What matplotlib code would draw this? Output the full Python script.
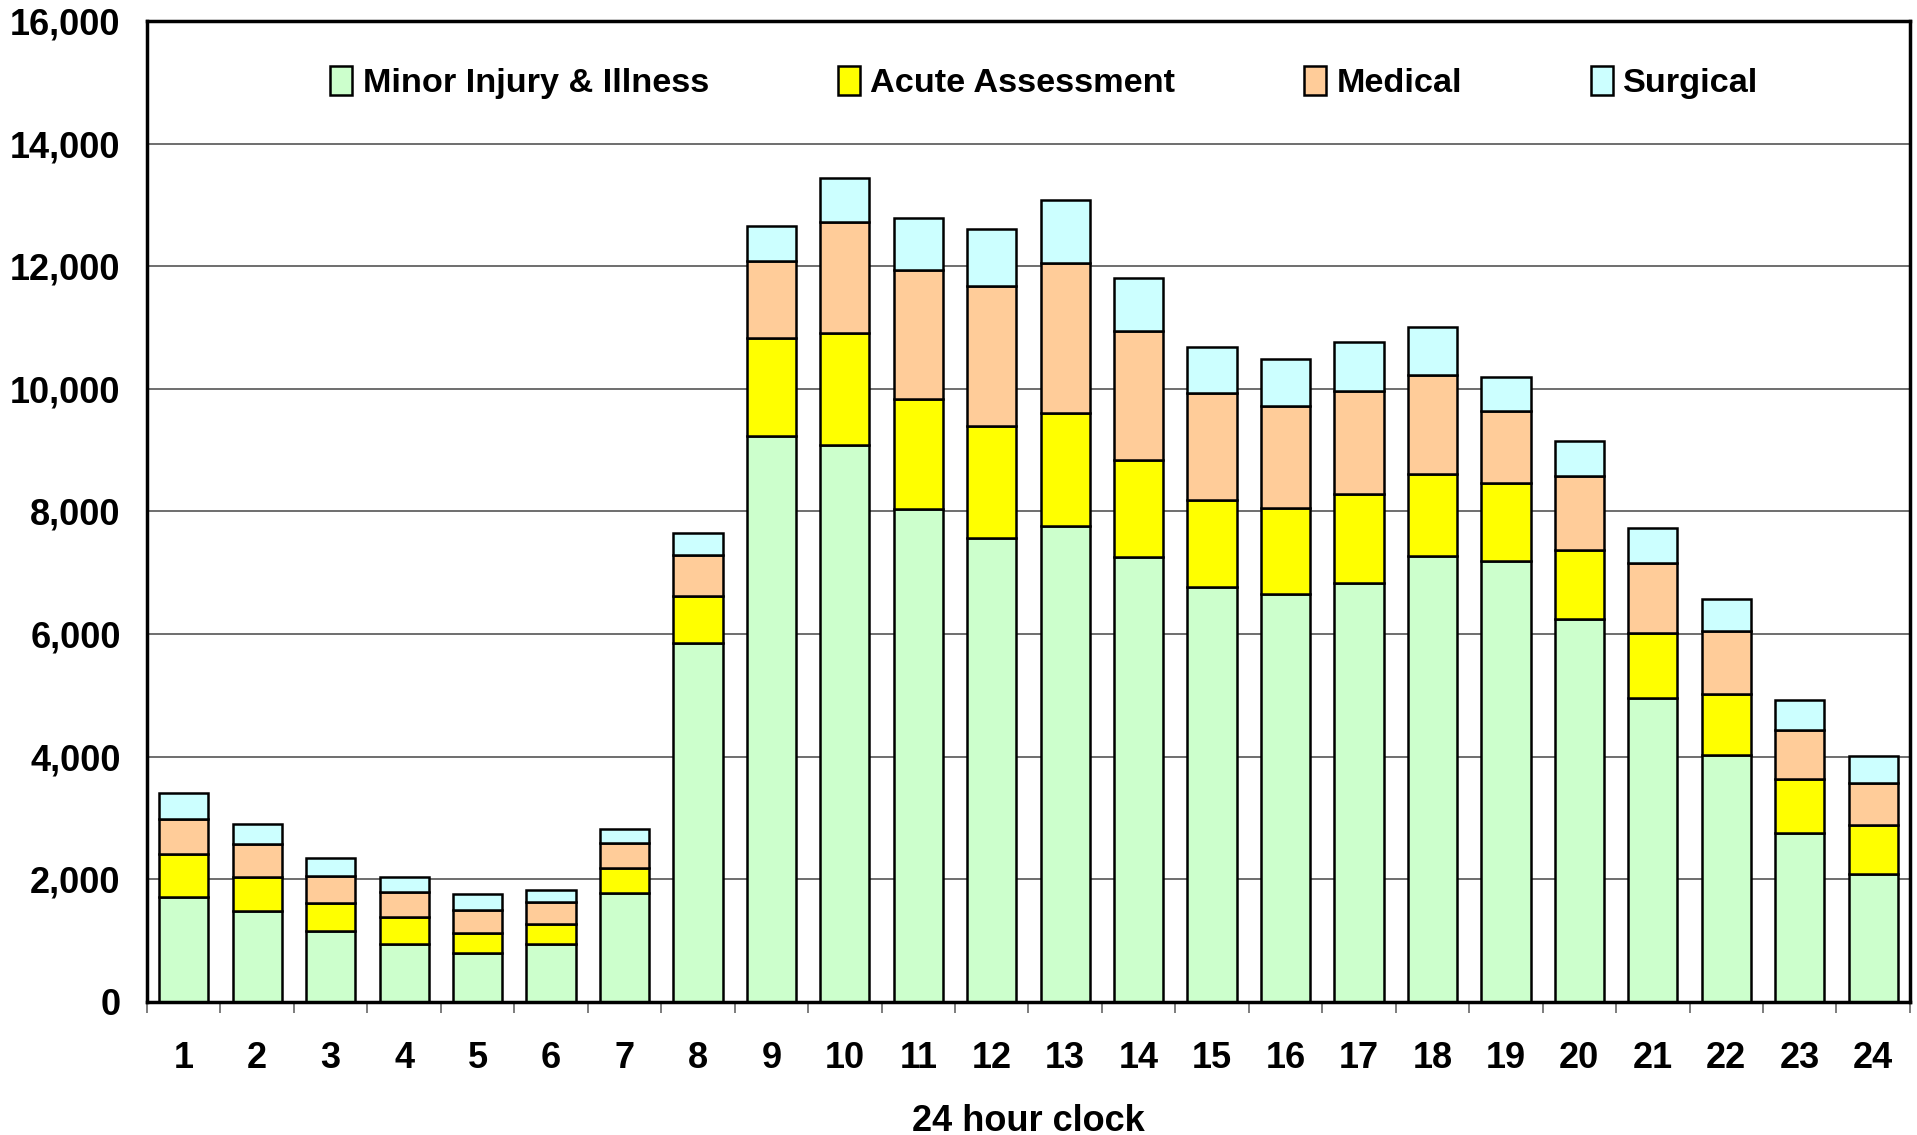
import matplotlib
matplotlib.use("Agg")
import matplotlib.pyplot as plt
import numpy as np

hours = list(range(1, 25))
minor = [1715, 1480, 1158, 940, 803, 940, 1776, 5851, 9238, 9086, 8042, 7569,
         7765, 7259, 6770, 6648, 6835, 7273, 7192, 6254, 4965, 4027, 2751, 2088]
acute = [697, 553, 459, 453, 328, 327, 404, 772, 1599, 1822, 1800, 1822,
         1838, 1583, 1410, 1407, 1457, 1345, 1269, 1113, 1045, 1001, 889, 800]
medical = [578, 536, 443, 394, 372, 367, 410, 664, 1251, 1811, 2094, 2284,
           2447, 2099, 1755, 1670, 1670, 1601, 1182, 1207, 1150, 1026, 800, 689]
surgical = [415, 333, 295, 251, 251, 186, 224, 363, 576, 723, 859, 929,
            1033, 865, 745, 763, 801, 788, 557, 582, 570, 525, 488, 432]

series = [("Minor Injury & Illness", minor, "#CCFFCC"),
          ("Acute Assessment", acute, "#FFFF00"),
          ("Medical", medical, "#FFCC99"),
          ("Surgical", surgical, "#CCFFFF")]

plt.rcParams['font.family'] = ['Liberation Sans', 'DejaVu Sans']
plt.rcParams['font.weight'] = 'bold'

fig = plt.figure(figsize=(19.17, 11.35), dpi=100)
ax = fig.add_axes([0.0767, 0.1172, 0.9196, 0.8643])

x = np.array(hours)
bottom = np.zeros(len(hours))
for name, vals, col in series:
    ax.bar(x, vals, width=0.67, bottom=bottom, color=col, edgecolor='black',
           linewidth=1.8, label=name, zorder=3)
    bottom += np.array(vals)

ax.set_xlim(0.5, 24.5)
ax.set_ylim(0, 16000)
ax.set_yticks(np.arange(0, 16001, 2000))
ax.set_yticklabels([f"{v:,}" for v in range(0, 16001, 2000)], fontsize=26, fontweight='bold')
ax.tick_params(axis='y', length=0, pad=19)
ax.yaxis.grid(True, color='#555555', linewidth=1.2, zorder=0)

ax.set_xticks(np.arange(0.5, 25, 1))
ax.set_xticklabels([])
ax.tick_params(axis='x', which='major', length=8, width=1.2, color='#666666', direction='out')
ax.set_xticks(x, minor=True)
ax.set_xticklabels([str(h) for h in hours], minor=True, fontsize=26, fontweight='bold')
ax.tick_params(axis='x', which='minor', length=0, pad=28)
ax.set_xlabel("24 hour clock", fontsize=26, fontweight='bold', labelpad=20)

for s in ax.spines.values():
    s.set_linewidth(2.5)
    s.set_color('black')
    s.set_zorder(5)

leg = ax.legend(loc='center', bbox_to_anchor=(0.509, 0.937), ncol=4, frameon=False,
                columnspacing=3.75, handlelength=0.65, handleheight=0.9,
                handletextpad=0.3, prop={'weight': 'bold', 'size': 24.7})

fig.savefig("out.png", dpi=100)
